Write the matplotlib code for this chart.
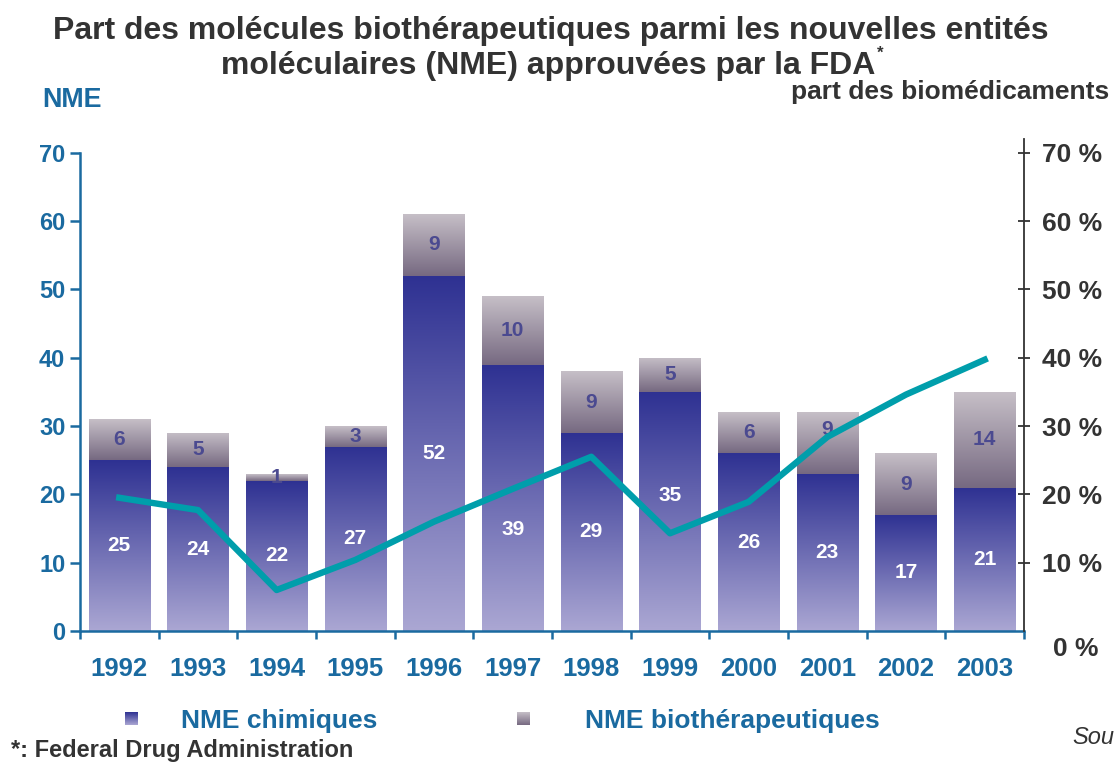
import numpy as np
import matplotlib
matplotlib.use("Agg")
import matplotlib.pyplot as plt
from matplotlib.colors import LinearSegmentedColormap

years = ["1992", "1993", "1994", "1995", "1996", "1997", "1998", "1999", "2000", "2001", "2002", "2003"]
nme_chimiques = [25, 24, 22, 27, 52, 39, 29, 35, 26, 23, 17, 21]
nme_bio = [6, 5, 1, 3, 9, 10, 9, 5, 6, 9, 9, 14]
part_bio_pct = [19.5, 17.7, 6.0, 10.4, 16.0, 20.8, 25.5, 14.3, 18.9, 28.4, 34.6, 39.7]
left_ticks = [0, 10, 20, 30, 40, 50, 60, 70]
right_ticks = [10, 20, 30, 40, 50, 60, 70]

# label nudges (points) used in the original to keep numbers clear of the line
chim_label_nudge = {"1997": -23, "1999": 11.5}
bio_label_nudge = {"2001": 9.5}

plt.rcParams['font.family'] = ['Liberation Sans', 'DejaVu Sans']
plt.rcParams['font.weight'] = 'bold'

BLUE = '#1a6aa0'
GREY = '#333333'
CHIM_TOP, CHIM_BOT = '#2e3192', '#aba7d3'
BIO_TOP, BIO_BOT = '#c6bfc7', '#766981'
LINE = '#009eab'

fig = plt.figure(figsize=(11.15, 7.63), dpi=100)
ax = fig.add_axes([0.0717, 0.1730, 0.8467, 0.6448])

x = np.arange(len(years))
w = 0.78
bars_c = ax.bar(x, nme_chimiques, width=w, zorder=2)
bars_b = ax.bar(x, nme_bio, width=w, bottom=nme_chimiques, zorder=2)

grad = np.linspace(0, 1, 256).reshape(-1, 1)

def gradient(bars, bottom_color, top_color):
    cmap = LinearSegmentedColormap.from_list('g', [bottom_color, top_color])
    for b in bars:
        x0, y0 = b.get_x(), b.get_y()
        bw, bh = b.get_width(), b.get_height()
        im = ax.imshow(grad, extent=[x0, x0 + bw, y0, y0 + bh], origin='lower',
                       aspect='auto', cmap=cmap, zorder=2, interpolation='bilinear')
        im.set_clip_path(b)
        b.set_facecolor('none')
        b.set_edgecolor('none')

gradient(bars_c, CHIM_BOT, CHIM_TOP)
gradient(bars_b, BIO_BOT, BIO_TOP)

def labels(bars, values, color, nudges):
    for yr, b, v in zip(years, bars, values):
        cx = b.get_x() + b.get_width() / 2
        cy = b.get_y() + b.get_height() / 2
        ax.annotate(str(v), xy=(cx, cy), xytext=(0, nudges.get(yr, 0)),
                    textcoords='offset points', ha='center', va='center',
                    color=color, fontsize=15, fontweight='bold', zorder=3)

labels(bars_c, nme_chimiques, 'white', chim_label_nudge)
labels(bars_b, nme_bio, '#4b4a90', bio_label_nudge)

ax.set_xlim(-0.5, len(years) - 0.5)
ax.set_ylim(0, 72)
ax.set_yticks(left_ticks)
ax.set_yticklabels([str(t) for t in left_ticks])
ax.tick_params(axis='y', colors=BLUE, labelsize=17, length=7.5, width=1.8, pad=3)
for lab in ax.get_yticklabels():
    lab.set_fontweight('bold')
ax.set_xticks(x)
ax.set_xticklabels(years)
ax.tick_params(axis='x', which='major', length=0, pad=19, labelsize=18.5, labelcolor=BLUE)
ax.set_xticks(np.arange(-0.5, len(years)), minor=True)
ax.tick_params(axis='x', which='minor', length=6, width=1.8, color=BLUE)
for lab in ax.get_xticklabels():
    lab.set_fontweight('bold')

ax.spines['top'].set_visible(False)
ax.spines['right'].set_visible(False)
ax.spines['left'].set_color(BLUE)
ax.spines['bottom'].set_color(BLUE)
ax.spines['left'].set_linewidth(1.8)
ax.spines['bottom'].set_linewidth(1.8)
ax.spines['left'].set_bounds(0, 70)

ax2 = ax.twinx()
ax2.plot(x, part_bio_pct, color=LINE, lw=4.6, zorder=5)
ax2.set_ylim(0, 72)
ax2.set_yticks(right_ticks)
ax2.set_yticklabels([f"{t} %" for t in right_ticks])
ax2.tick_params(axis='y', colors=GREY, labelsize=19, length=8, width=1.3,
                direction='inout', pad=9)
for lab in ax2.get_yticklabels():
    lab.set_fontweight('bold')
for s in ['top', 'left', 'bottom']:
    ax2.spines[s].set_visible(False)
ax2.spines['right'].set_color(GREY)
ax2.spines['right'].set_linewidth(1.3)
ax2.annotate("0 %", xy=(1, 0), xycoords='axes fraction', xytext=(21, -13),
             textcoords='offset points', ha='left', va='center', color=GREY,
             fontsize=19, fontweight='bold')

# titles
t1 = fig.text(0.494, 0.959, "Part des molécules biothérapeutiques parmi les nouvelles entités",
              ha='center', va='center', fontsize=23, color=GREY, fontweight='bold')
t2 = fig.text(0.492, 0.913, "moléculaires (NME) approuvées par la FDA",
              ha='center', va='center', fontsize=23, color=GREY, fontweight='bold')
fig.text(0.0375, 0.869, "NME", ha='left', va='center', fontsize=19.4, color=BLUE, fontweight='bold')
fig.text(0.995, 0.879, "part des biomédicaments", ha='right', va='center', fontsize=19,
         color=GREY, fontweight='bold')
ax.annotate("*", xy=(1, 1), xycoords=t2, xytext=(1, -7), textcoords='offset points',
            ha='left', va='bottom', fontsize=12, color=GREY, fontweight='bold',
            annotation_clip=False)

# legend
def legend_square(xc, yc, bottom_color, top_color):
    sz_w, sz_h = 13 / 1115, 13 / 763
    lax = fig.add_axes([xc / 1115 - sz_w / 2, 1 - yc / 763 - sz_h / 2, sz_w, sz_h])
    cmap = LinearSegmentedColormap.from_list('g', [bottom_color, top_color])
    lax.imshow(grad, origin='lower', aspect='auto', cmap=cmap, extent=[0, 1, 0, 1])
    lax.axis('off')

legend_square(131, 718, CHIM_BOT, CHIM_TOP)
legend_square(523, 718, BIO_BOT, BIO_TOP)
fig.text(181 / 1115, 1 - 721 / 763, "NME chimiques", ha='left', va='center', fontsize=19,
         color=BLUE, fontweight='bold')
fig.text(585 / 1115, 1 - 721 / 763, "NME biothérapeutiques", ha='left', va='center', fontsize=19,
         color=BLUE, fontweight='bold')
fig.text(11 / 1115, 1 - 751 / 763, "*: Federal Drug Administration", ha='left', va='center',
         fontsize=17, color=GREY, fontweight='bold')
fig.text(1072 / 1115, 1 - 737 / 763, "Sou", ha='left', va='center', fontsize=17,
         color=GREY, fontweight='normal', style='italic')

fig.savefig("out.png", dpi=100)
